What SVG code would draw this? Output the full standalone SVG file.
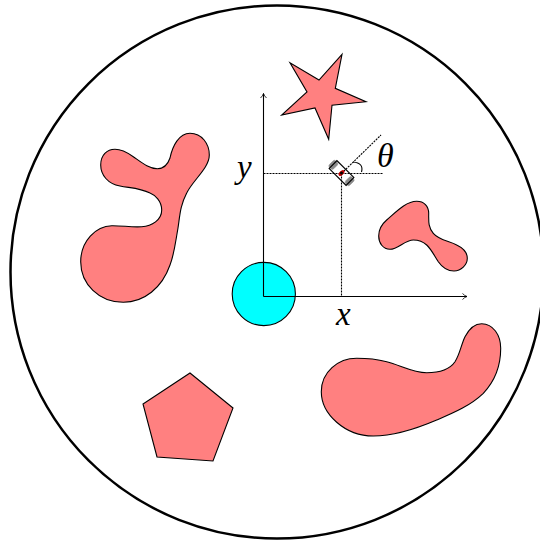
<svg xmlns="http://www.w3.org/2000/svg" width="540" height="544" viewBox="0 0 540 544">
<style>
.ob{fill:#ff8080;stroke:#000;stroke-width:1.1}
.ax{fill:none;stroke:#000;stroke-width:1.1}
.dot{fill:none;stroke:#000;stroke-width:1.1;stroke-dasharray:2 1}
.m{font-family:"Liberation Serif","DejaVu Serif",serif;font-style:italic;font-size:33px;fill:#000}
.wh{fill:#8a8a8a;stroke:#8a8a8a;stroke-width:0.5}
</style>
<defs>
<marker id="arr" markerUnits="userSpaceOnUse" markerWidth="8" markerHeight="8" refX="6" refY="4" orient="auto">
<path d="M1.500 1Q3.500 3.200 6 4Q3.500 4.800 1.500 7" fill="none" stroke="#000" stroke-width="0.8"/>
</marker>
</defs>
<rect width="540" height="544" fill="#fff"/>
<g id="workspace"><circle cx="277" cy="272" r="266.500" fill="#fff" stroke="#000" stroke-width="2.500"/></g>
<g id="blob-left"><path class="ob" d="M190 133.300C202 133.300 209.300 144 209.300 155C209.300 168 193 180 186.700 193C180 206 180 215 178 228C175 245 174 255 170 265C162 288 144 302.300 123.300 302.300C99 302.300 80.700 284 80.700 261.700C80.700 241 96 226 111.700 225.700C122 225.500 132 227.500 141.700 226.700C152 226 161.700 220 161.700 210C161.700 201 155 195 150 193C140 188 130 188 120 186C108 184 100.700 175 100.700 165C100.700 155 107 149.300 115 149.300C122 149.300 128 153 133.300 156.700C141 162 149 168.700 157.300 168.700C164 168.700 168 164 170 158C172.500 146 179 133.300 190 133.300Z"/></g>
<g id="blob-small"><path class="ob" d="M416.700 201.300C424 201.300 428.700 206 428.700 213.300C428.700 221 428 227 433.300 233.300C439 240 449 241 456.700 245C463 248 467.300 252 467.300 258.300C467.300 265 461 271 454 271C447 271 442 267 438.300 261.700C434 255 431 249 426.700 245C423 241.500 418 240 413.300 240C405 240 398 249.300 390 249.300C383 249.300 378.700 243 378.700 236C378.700 229 382 224 386.700 220C396 212 406 201.300 416.700 201.300Z"/></g>
<g id="blob-lower"><path class="ob" d="M481.700 323.700C493 323.700 500.700 335 500.700 348.300C500.700 366 495 381 483.300 393.300C470 406 453 413 436.700 420C418 428 393 436 373.300 436C345 436 321.300 414 321.300 391.700C321.300 372 338 358.300 356.700 358.300C368 358.300 376 359 386.700 361.700C400 365 413 372.700 426.700 372.700C441 372.700 450 369 455 361.700C460 354 461 345 465 336.700C469 329 474 323.700 481.700 323.700Z"/></g>
<g id="star"><polygon class="ob" points="342,54.300 335.300,88.300 366,101.700 332,105.300 328.700,139.300 315,108 281.700,115 307,92 290,62.700 319,80"/></g>
<g id="pentagon"><polygon class="ob" points="190,373 233,408 213,461 157,457 143,404"/></g>
<g id="start"><circle cx="263.800" cy="294" r="31.600" fill="#0ff" stroke="#000" stroke-width="1.100"/></g>
<g id="connectors">
<path class="ax" d="M263.500 296.500V93.500" marker-end="url(#arr)"/>
<path class="ax" d="M263.500 296.500H467" marker-end="url(#arr)"/>
<path class="dot" d="M263.500 173.500H383"/>
<path class="dot" d="M341.500 173.500V296.500"/>
<path class="dot" d="M341.500 173.500L381 135" stroke-width="0.8"/>
<path class="ax" d="M353 162Q364 163 361.500 172"/>
</g>
<g id="robot" transform="translate(341.500 173) rotate(-45)">
<rect class="wh" x="-4.500" y="-14.500" width="9" height="6" rx="2"/>
<rect class="wh" x="-4.500" y="8.500" width="9" height="6" rx="2"/>
<rect x="-5.500" y="-12" width="11" height="24" fill="none" stroke="#000" stroke-width="1.100"/>
<ellipse rx="3.600" ry="2" fill="#c00000"/>
<circle r="1.500" fill="#000"/>
</g>
<g id="labels">
<text class="m" x="377" y="167" style="font-size:34px">θ</text>
<text class="m" x="237" y="178">y</text>
<text class="m" x="336" y="325">x</text>
</g>
</svg>
